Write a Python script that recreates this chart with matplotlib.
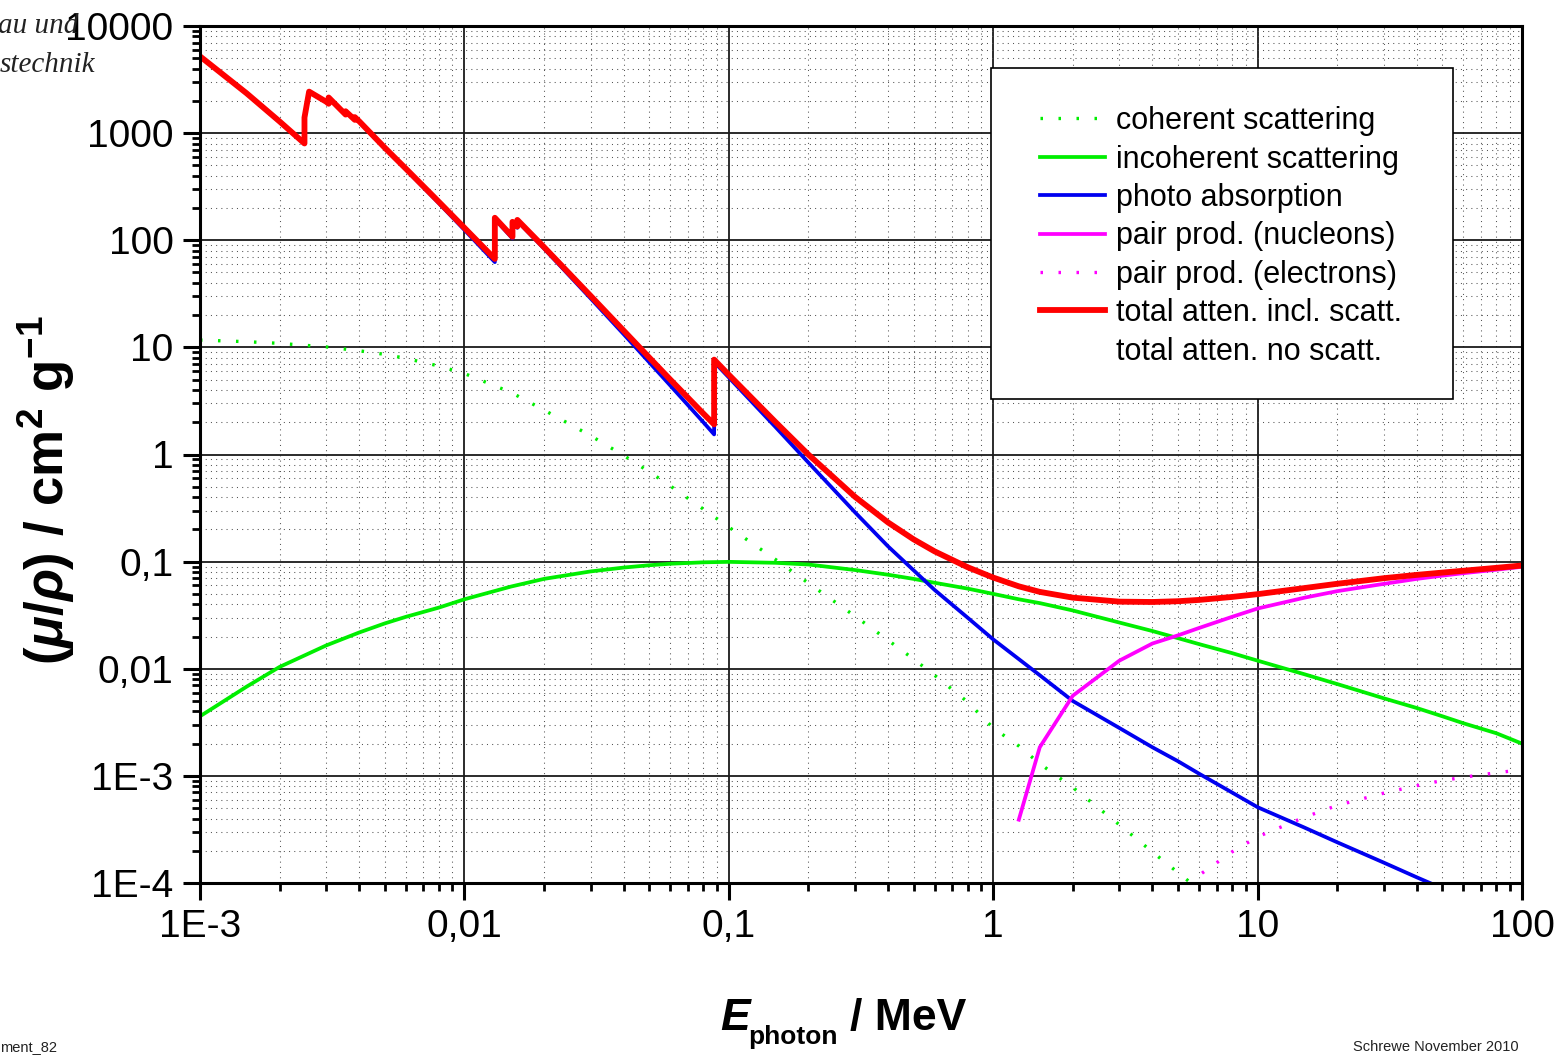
import numpy as np
import matplotlib
matplotlib.use("Agg")
import matplotlib.pyplot as plt
from matplotlib.ticker import FixedLocator, FixedFormatter, LogLocator, NullFormatter
from matplotlib.lines import Line2D
from matplotlib.patches import Rectangle

plt.rcParams['font.family'] = ['Liberation Sans', 'DejaVu Sans']
plt.rcParams['mathtext.fontset'] = 'custom'
plt.rcParams['mathtext.rm'] = 'Liberation Sans:bold'
plt.rcParams['mathtext.it'] = 'Liberation Sans:italic:bold'
plt.rcParams['mathtext.bf'] = 'Liberation Sans:bold'

# ---------------- data (photon energy in MeV, mu/rho in cm^2/g) ----------------
energy_total = [1e-3, 1.5e-3, 2e-3, 2.484e-3, 2.484e-3, 2.586e-3, 3.0e-3, 3.066e-3, 3.066e-3,
                3.554e-3, 3.554e-3, 3.851e-3, 3.851e-3, 4e-3, 5e-3, 6e-3, 8e-3, 1e-2,
                1.3035e-2, 1.3035e-2, 1.5e-2, 1.52e-2, 1.52e-2, 1.586e-2, 1.586e-2, 2e-2,
                3e-2, 4e-2, 5e-2, 6e-2, 8e-2, 8.8e-2, 8.8e-2, 0.1, 0.15, 0.2, 0.3, 0.4,
                0.5, 0.6, 0.8, 1.0, 1.25, 1.5, 2.0, 3.0, 4.0, 5.0, 6.0, 8.0, 10.0, 15.0,
                20.0, 30.0, 40.0, 50.0, 60.0, 80.0, 100.0]
mu_total = [5210, 2356, 1285, 800.6, 1397, 2440, 1965, 1880, 2150,
            1490, 1600, 1330, 1410, 1290, 730, 467, 228.7, 130.6,
            67.0, 162.1, 111.6, 107.8, 148.5, 134.4, 154.8, 86.36,
            30.32, 14.36, 8.041, 5.021, 2.419, 1.910, 7.683, 5.549, 2.014, 0.9985, 0.4031, 0.2323,
            0.1614, 0.1248, 0.0887, 0.0710, 0.0588, 0.0522, 0.0461, 0.0423, 0.0420, 0.0427, 0.0439,
            0.0468, 0.0497, 0.0566, 0.0621, 0.0700, 0.0752, 0.0790, 0.0822, 0.0875, 0.0920]
mu_photo = [5198, 2345, 1274, 790, 1386, 2429, 1955, 1870, 2140,
            1480, 1590, 1321, 1401, 1281, 721, 459, 222, 124.9,
            62.5, 157.6, 107.7, 104.0, 144.7, 130.8, 151.2, 83.7,
            28.7, 13.3, 7.26, 4.42, 2.01, 1.54, 7.31, 5.24, 1.81, 0.841, 0.289, 0.139,
            0.083, 0.0545, 0.0300, 0.0188, 0.0123, 0.0087, 0.0050, 0.0028, 0.00185, 0.00137, 0.00105,
            0.00070, 0.00051, 0.00033, 0.00024, 0.000155, 0.000113, 0.000089, 0.000073, 0.000054, 0.000043]

energy_scatt = [1e-3, 1.5e-3, 2e-3, 3e-3, 4e-3, 5e-3, 6e-3, 8e-3, 1e-2, 1.5e-2, 2e-2, 3e-2,
                4e-2, 5e-2, 6e-2, 8e-2, 0.1, 0.15, 0.2, 0.3, 0.4, 0.5, 0.6, 0.8, 1.0, 1.25,
                1.5, 2.0, 3.0, 4.0, 5.0, 6.0, 8.0, 10.0, 15.0, 20.0, 30.0, 40.0, 50.0, 60.0,
                80.0, 100.0]
mu_incoherent = [0.0036, 0.0068, 0.0104, 0.0165, 0.0218, 0.0265, 0.0305, 0.0372, 0.0445, 0.0585,
                 0.0690, 0.0810, 0.0880, 0.0925, 0.0955, 0.0985, 0.0995, 0.0975, 0.0940, 0.0835,
                 0.0755, 0.0690, 0.0635, 0.0560, 0.0500, 0.0445, 0.0410, 0.0350, 0.0270, 0.0225,
                 0.0193, 0.0170, 0.0140, 0.0119, 0.0089, 0.0072, 0.0053, 0.0043, 0.0036, 0.0031,
                 0.0025, 0.0020]
mu_coherent = [11.7, 11.3, 10.9, 10.1, 9.3, 8.6, 7.9, 6.7, 5.7, 3.8,
               2.6, 1.5, 0.98, 0.69, 0.51, 0.31, 0.21, 0.105, 0.063, 0.031,
               0.0185, 0.0123, 0.0087, 0.0049, 0.0028, 0.0019, 0.0013, 0.00078, 0.00035, 0.000195,
               0.000125, 0.000087, 0.000049, 0.000032, 0.000015, 0.0000085, 0.0000038, 0.0000021,
               0.0000014, 0.0000010, 0.00000055, 0.00000035]

energy_pair_nuc = [1.25, 1.5, 2.0, 3.0, 4.0, 5.0, 6.0, 8.0, 10.0, 15.0, 20.0, 30.0, 40.0, 50.0,
                   60.0, 80.0, 100.0]
mu_pair_nuc = [0.00039, 0.00185, 0.0056, 0.0119, 0.0172, 0.0205, 0.0240, 0.0305, 0.0365, 0.0460,
               0.0530, 0.0620, 0.0690, 0.0740, 0.0780, 0.0840, 0.0895]

energy_pair_el = [4.0, 5.0, 6.0, 8.0, 10.0, 15.0, 20.0, 30.0, 40.0, 50.0, 60.0, 80.0, 100.0]
mu_pair_el = [0.000025, 0.000068, 0.000118, 0.000195, 0.000270, 0.000410, 0.000530, 0.000690,
              0.000810, 0.000905, 0.000970, 0.001070, 0.001140]

x_ticks = [1e-3, 1e-2, 1e-1, 1, 10, 100]
x_labels = ["1E-3", "0,01", "0,1", "1", "10", "100"]
y_ticks = [1e-4, 1e-3, 1e-2, 1e-1, 1, 10, 100, 1000, 10000]
y_labels = ["1E-4", "1E-3", "0,01", "0,1", "1", "10", "100", "1000", "10000"]

legend_labels = ["coherent scattering", "incoherent scattering", "photo absorption",
                 "pair prod. (nucleons)", "pair prod. (electrons)",
                 "total atten. incl. scatt.", "total atten. no scatt."]

# ---------------- figure ----------------
W, H = 1567, 1059
fig = plt.figure(figsize=(W / 100, H / 100), dpi=100)
ax = fig.add_axes([200 / W, 1 - 883 / H, 1322 / W, 857 / H])
ax.set_xscale('log')
ax.set_yscale('log')
ax.set_xlim(1e-3, 100)
ax.set_ylim(1e-4, 1e4)

GREEN = '#00EE00'
dots = (0, (0.75, 4.65))
l_coh, = ax.plot(energy_scatt, mu_coherent, color=GREEN, lw=2.4, ls=dots, dash_capstyle='butt')
l_inc, = ax.plot(energy_scatt, mu_incoherent, color=GREEN, lw=2.7)
l_ph, = ax.plot(energy_total, mu_photo, color='#0000F0', lw=2.7)
l_pn, = ax.plot(energy_pair_nuc, mu_pair_nuc, color='#FF00FF', lw=2.7)
l_pe, = ax.plot(energy_pair_el, mu_pair_el, color='#FF00FF', lw=2.4, ls=dots, dash_capstyle='butt')
l_tot, = ax.plot(energy_total, mu_total, color='#FF0000', lw=4.2)
l_none = Line2D([], [], color='none')

# grid
ax.set_axisbelow(True)
ax.grid(which='major', color='#1a1a1a', lw=1.3, ls='-')
ax.grid(which='minor', color='#555555', lw=0.75, ls=(0, (1, 4)))

ax.xaxis.set_major_locator(FixedLocator(x_ticks))
ax.xaxis.set_major_formatter(FixedFormatter(x_labels))
ax.yaxis.set_major_locator(FixedLocator(y_ticks))
ax.yaxis.set_major_formatter(FixedFormatter(y_labels))
ax.xaxis.set_minor_locator(LogLocator(base=10, subs=np.arange(2, 10), numticks=20))
ax.yaxis.set_minor_locator(LogLocator(base=10, subs=np.arange(2, 10), numticks=20))
ax.xaxis.set_minor_formatter(NullFormatter())
ax.yaxis.set_minor_formatter(NullFormatter())

ax.tick_params(which='major', direction='out', length=12, width=2.2, labelsize=28, pad=7,
               top=False, right=False, color='black')
ax.tick_params(which='minor', direction='out', length=6, width=2.0,
               top=False, right=False, color='black')
for s in ax.spines.values():
    s.set_linewidth(2.2)
    s.set_color('black')

# legend box and legend
ax.add_patch(Rectangle((0.598, 0.565), 0.350, 0.386, transform=ax.transAxes,
                       facecolor='white', edgecolor='black', lw=1.2, zorder=5))
leg = ax.legend([l_coh, l_inc, l_ph, l_pn, l_pe, l_tot, l_none], legend_labels,
                loc='upper left', bbox_to_anchor=(0.6354, 0.9065), bbox_transform=ax.transAxes,
                frameon=False, fontsize=22, handlelength=2.13, handletextpad=0.36,
                labelspacing=0.275, borderpad=0, borderaxespad=0)
leg.set_zorder(6)

# axis labels
fig.text(720 / W, 1 - 1030 / H, 'E', fontsize=32, fontweight='bold', fontstyle='italic',
         ha='left', va='baseline')
fig.text(748 / W, 1 - 1044 / H, 'photon', fontsize=19, fontweight='bold',
         ha='left', va='baseline')
fig.text(850 / W, 1 - 1030 / H, '/ MeV', fontsize=32, fontweight='bold',
         ha='left', va='baseline')

fig.text(46 / W, 1 - 490 / H, r'$\mathrm{(}\mu/\rho\mathrm{)\ /\ cm^{2}\ g^{-1}}$',
         fontsize=38, rotation=90, ha='center', va='center')

# header remnants and footer
fig.text(-2 / W, 1 - 33 / H, 'au und', fontsize=21, fontstyle='italic',
         family=['Liberation Serif', 'DejaVu Serif'], color='#222222', ha='left', va='baseline')
fig.text(0 / W, 1 - 72 / H, 'stechnik', fontsize=21, fontstyle='italic',
         family=['Liberation Serif', 'DejaVu Serif'], color='#222222', ha='left', va='baseline')
fig.text(0 / W, 1 - 1047 / H, 'ment_82', fontsize=10.5, ha='left', va='center', color='#222222')
fig.text(1519 / W, 1 - 1047 / H, 'Schrewe November 2010', fontsize=10.5, ha='right',
         va='center', color='#222222')

fig.savefig('out.png', dpi=100)
